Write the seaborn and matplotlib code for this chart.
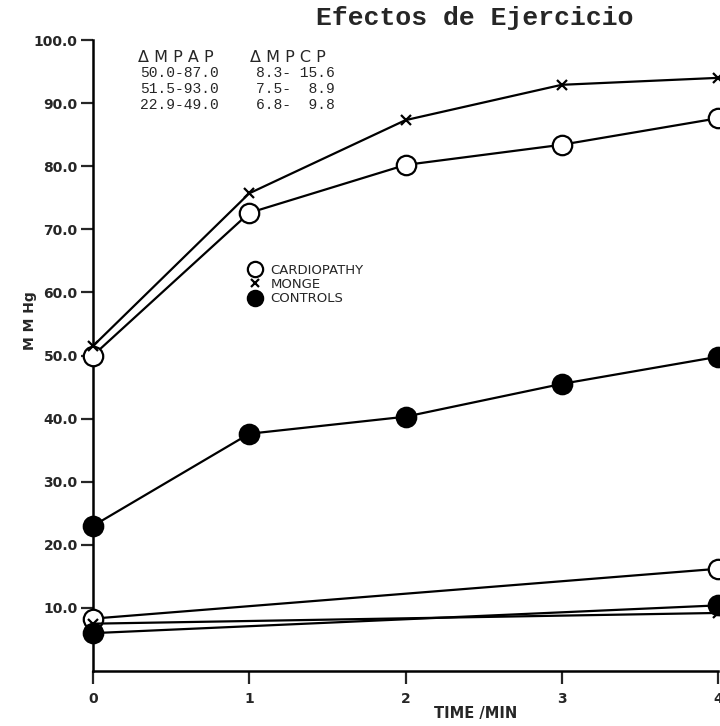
import pandas as pd
import matplotlib.pyplot as plt
import seaborn as sns
from matplotlib.lines import Line2D

# values (mm Hg vs time in minutes)
time_full = [0, 1, 2, 3, 4]
mpap_cardio = [50.0, 72.6, 80.2, 83.4, 87.6]
mpap_monge = [51.5, 75.7, 87.3, 92.9, 94.0]
mpap_controls = [23.0, 37.6, 40.3, 45.5, 49.8]

time_ends = [0, 4]
mpcp_cardio = [8.3, 16.2]
mpcp_monge = [7.5, 9.2]
mpcp_controls = [6.0, 10.4]

groups = ['CARDIOPATHY', 'MONGE', 'CONTROLS']
table_mpap = ['50.0-87.0', '51.5-93.0', '22.9-49.0']
table_mpcp = ['8.3- 15.6', '7.5-  8.9', '6.8-  9.8']

rows = []
for g, vals in zip(groups, [mpap_cardio, mpap_monge, mpap_controls]):
    for t, v in zip(time_full, vals):
        rows.append({'time': t, 'mmhg': v, 'group': g, 'measure': 'MPAP'})
for g, vals in zip(groups, [mpcp_cardio, mpcp_monge, mpcp_controls]):
    for t, v in zip(time_ends, vals):
        rows.append({'time': t, 'mmhg': v, 'group': g, 'measure': 'MPCP'})
df = pd.DataFrame(rows)

sns.set_style('white')
plt.rcParams['font.family'] = ['DejaVu Sans']

fig = plt.figure(figsize=(7.2, 7.26), dpi=100)
ax = fig.add_axes([93/720, 1 - 671/726, 625/720, 631/726])

style = {
    'CARDIOPATHY': dict(marker='o', markersize=14, markerfacecolor='white', markeredgecolor='black', markeredgewidth=1.6),
    'MONGE': dict(marker='x', markersize=7, markeredgecolor='black', markeredgewidth=1.6),
    'CONTROLS': dict(marker='o', markersize=14, markerfacecolor='black', markeredgecolor='black', markeredgewidth=1.6),
}
for meas in ['MPAP', 'MPCP']:
    for g in groups:
        sub = df[(df.group == g) & (df.measure == meas)]
        sns.lineplot(data=sub, x='time', y='mmhg', color='black', linewidth=1.6,
                     clip_on=False, zorder=3, ax=ax, **style[g])

ax.set_xlim(0, 4)
ax.set_ylim(0, 100)
ax.set_xticks([0, 1, 2, 3, 4])
ax.set_xticklabels(['0', '1', '2', '3', '4'], fontweight='bold', fontsize=10)
ax.set_yticks(range(10, 101, 10))
ax.set_yticklabels([f'{v:.1f}' for v in range(10, 101, 10)], fontweight='bold', fontsize=10)
ax.tick_params(axis='y', direction='out', length=9, width=1.6, pad=2, left=True)
ax.tick_params(axis='x', direction='out', length=9, width=1.6, pad=6, bottom=True)
for s in ['top', 'right']:
    ax.spines[s].set_visible(False)
for s in ['left', 'bottom']:
    ax.spines[s].set_linewidth(1.8)
    ax.spines[s].set_color('black')
ax.set_xlabel('')
ax.set_ylabel('')

handles = [
    Line2D([], [], linestyle='none', **style['CARDIOPATHY']),
    Line2D([], [], linestyle='none', **style['MONGE']),
    Line2D([], [], linestyle='none', **style['CONTROLS']),
]
for h in handles:
    h.set_markersize(11 if h.get_marker() == 'o' else 6)
ax.legend(handles, groups, loc='upper left', bbox_to_anchor=(240/720, 1 - 257/726),
          bbox_transform=fig.transFigure, frameon=False, fontsize=9.5,
          handletextpad=0.6, labelspacing=0.1, borderpad=0, handlelength=1.2)

fig.text(0.66, 0.975, 'Efectos de Ejercicio', ha='center', va='center',
         family=['Liberation Mono', 'DejaVu Sans Mono'], fontweight='bold', fontsize=19)
fig.text(0.042, 0.559, 'M M Hg', rotation=90, ha='center', va='center', fontsize=10, fontweight='bold')
fig.text(0.66, 0.017, 'TIME /MIN', ha='center', va='center', fontsize=10.5, fontweight='bold')

mono = ['Liberation Mono', 'DejaVu Sans Mono']
fig.text(138/720, 1 - 57/726, '\u0394 M P A P', ha='left', va='center', fontsize=11.5)
fig.text(250/720, 1 - 57/726, '\u0394 M P C P', ha='left', va='center', fontsize=11.5)
for i, (a, b) in enumerate(zip(table_mpap, table_mpcp)):
    y = 1 - (73 + 16 * i) / 726
    fig.text(140/720, y, a, ha='left', va='center', fontsize=10.5, family=mono)
    fig.text(256/720, y, b, ha='left', va='center', fontsize=10.5, family=mono)

plt.savefig('out.png', dpi=100)
